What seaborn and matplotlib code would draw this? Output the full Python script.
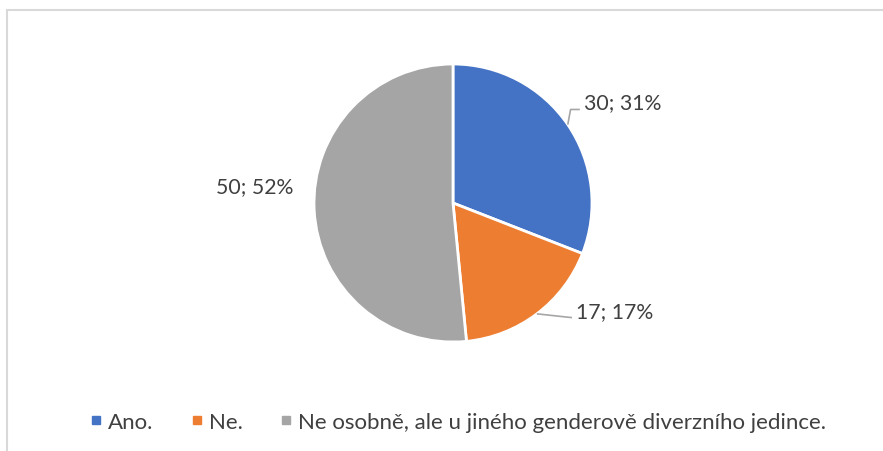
import numpy as np
import matplotlib
matplotlib.use("Agg")
import matplotlib.pyplot as plt
import seaborn as sns
from matplotlib.lines import Line2D

# data
kategorie = ["Ano.", "Ne.", "Ne osobně, ale u jiného genderově diverzního jedince."]
pocty = [30, 17, 50]
procenta = [31, 17, 52]
barvy = ["#4472C4", "#ED7D31", "#A5A5A5"]

sns.set_theme(style="white")
plt.rcParams["font.family"] = ["Lato", "DejaVu Sans"]
text_barva = "#404040"

W, H = 883, 452
fig = plt.figure(figsize=(W / 100, H / 100), dpi=100)
ax = fig.add_axes([0, 0, 1, 1])

R = 139.0  # poloměr v pixelech
cx, cy = 453, H - 204
wedges, _ = ax.pie(pocty, colors=barvy, startangle=90, counterclock=False,
                   radius=1, wedgeprops=dict(edgecolor="white", linewidth=2))
ax.set_aspect("auto")
ax.set_xlim(-cx / R, (W - cx) / R)
ax.set_ylim(-cy / R, (H - cy) / R)
ax.axis("off")

# popisky (úhel, vzdálenost textu, vodicí čára)
umisteni = [(30.6, 1.42, True), (-33.6, 1.40, True), (175.0, 1.43, False)]
for w, n, p, (ang, dist, vodici) in zip(wedges, pocty, procenta, umisteni):
    stred = np.deg2rad((w.theta1 + w.theta2) / 2)
    a = np.deg2rad(ang)
    tx, ty = dist * np.cos(a), dist * np.sin(a)
    ax.text(tx, ty, f"{n}; {p}%", ha="center", va="center",
            fontsize=15.3, color=text_barva)
    if vodici:
        ex, ey = np.cos(stred), np.sin(stred)
        lx = tx - 0.31
        ly = ty - 0.05
        if ty > 0:
            xs = [ex, ex + 0.02, lx]
            ys = [ey, ly, ly]
        else:
            xs = [ex, lx]
            ys = [ey, ly]
        ax.plot(xs, ys, color="#A6A6A6", lw=1.2, solid_capstyle="butt")

# legenda
handles = [Line2D([0], [0], marker="s", linestyle="none", markersize=5.8,
                  markerfacecolor=c, markeredgecolor=c) for c in barvy]
leg = fig.legend(handles, kategorie, loc="center", bbox_to_anchor=(459 / W, 29 / H),
                 ncol=3, frameon=False, fontsize=16, handlelength=0.36,
                 handletextpad=0.36, columnspacing=1.76)
for t in leg.get_texts():
    t.set_color(text_barva)

# rámeček
fig.add_artist(Line2D([7.5 / W, 7.5 / W], [0, 1 - 10.5 / H], color="#D9D9D9", lw=1.5))
fig.add_artist(Line2D([7.5 / W, 1], [1 - 10.5 / H, 1 - 10.5 / H], color="#D9D9D9", lw=1.5))

fig.savefig("out.png", dpi=100)
